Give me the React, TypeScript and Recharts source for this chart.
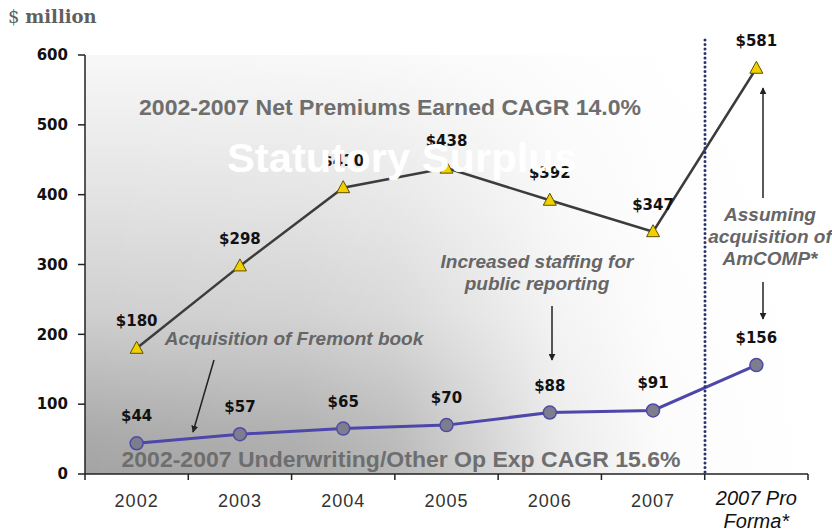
import React from 'react';
import { ComposedChart, Line, XAxis, YAxis, ReferenceArea, LabelList } from 'recharts';

const categories = ['2002', '2003', '2004', '2005', '2006', '2007', '2007 Pro Forma*'];
const netPremiums = [180, 298, 410, 438, 392, 347, 581];
const opExpenses = [44, 57, 65, 70, 88, 91, 156];
const yTicks = [0, 100, 200, 300, 400, 500, 600];

const W = 832;
const H = 531;
const M = { top: 55, right: 24, bottom: 0, left: 0 };
const YW = 85;
const XH = 57;
const BW = (W - M.left - M.right - YW) / categories.length;

const data = categories.map((c, i) => ({ cat: c, premiums: netPremiums[i], expenses: opExpenses[i] }));

const TriangleDot = (p: any) => {
  const { cx, cy, index } = p;
  if (cx == null || cy == null) return <g key={`t${index}`} />;
  return (
    <path
      key={`t${index}`}
      d={`M${cx},${cy - 7} L${cx + 6.5},${cy + 5} L${cx - 6.5},${cy + 5} Z`}
      fill="#f2d000"
      stroke="#5e5000"
      strokeWidth={1}
    />
  );
};

const CircleDot = (p: any) => {
  const { cx, cy, index } = p;
  if (cx == null || cy == null) return <g key={`c${index}`} />;
  return <circle key={`c${index}`} cx={cx} cy={cy} r={6.5} fill="#7d7d8e" stroke="#4f4aa6" strokeWidth={1.5} />;
};

const ValueLabel = (p: any) => {
  const { x, y, value } = p;
  if (x == null || y == null) return null;
  return (
    <text
      x={x}
      y={y - 22}
      textAnchor="middle"
      fontFamily="DejaVu Sans"
      fontWeight="bold"
      fontSize={15}
      fill="#111"
    >
      {'$' + value}
    </text>
  );
};

const XTick = (p: any) => {
  const { x, y, payload, index } = p;
  const v = payload.value as string;
  const last = index === categories.length - 1;
  return (
    <g>
      <line x1={x - BW / 2} y1={y} x2={x - BW / 2} y2={y + 6} stroke="#222" strokeWidth={1.5} />
      {last && <line x1={x + BW / 2} y1={y} x2={x + BW / 2} y2={y + 6} stroke="#222" strokeWidth={1.5} />}
      {last ? (
        <text x={x} textAnchor="middle" fontFamily="Liberation Sans" fontStyle="italic" fontSize={20} fill="#111">
          <tspan x={x} y={y + 31}>2007 Pro</tspan>
          <tspan x={x} y={y + 54}>Forma*</tspan>
        </text>
      ) : (
        <text x={x} y={y + 33} textAnchor="middle" fontFamily="Liberation Sans" fontSize={18} letterSpacing={1} fill="#333">
          {v}
        </text>
      )}
    </g>
  );
};

const annoStyle = {
  fontFamily: 'Liberation Sans',
  fontWeight: 'bold' as const,
  fontStyle: 'italic' as const,
  fontSize: 19,
  fill: '#666',
};

export default function App() {
  return (
    <div style={{ position: 'absolute', left: 0, top: 0, width: W, height: H, background: '#fff' }}>
      <svg width={0} height={0} style={{ position: 'absolute' }}>
        <defs>
          <linearGradient id="bgV" x1="0" y1="0" x2="0" y2="1">
            <stop offset="0" stopColor="#f8f8f8" />
            <stop offset="0.35" stopColor="#e2e2e2" />
            <stop offset="0.62" stopColor="#cfcfcf" />
            <stop offset="0.9" stopColor="#ababab" />
            <stop offset="1" stopColor="#a4a4a4" />
          </linearGradient>
          <linearGradient id="bgH" x1="0" y1="0" x2="1" y2="0">
            <stop offset="0" stopColor="#fff" stopOpacity={0} />
            <stop offset="0.3" stopColor="#fff" stopOpacity={0.08} />
            <stop offset="0.43" stopColor="#fff" stopOpacity={0.22} />
            <stop offset="0.55" stopColor="#fff" stopOpacity={0.5} />
            <stop offset="0.66" stopColor="#fff" stopOpacity={0.78} />
            <stop offset="0.8" stopColor="#fff" stopOpacity={0.96} />
            <stop offset="1" stopColor="#fff" stopOpacity={1} />
          </linearGradient>
        </defs>
      </svg>
      <div style={{ position: 'absolute', left: 0, top: 0 }}>
        <ComposedChart width={W} height={H} data={data} margin={M}>
          <ReferenceArea y1={0} y2={600} fill="url(#bgV)" fillOpacity={1} stroke="none" />
          <ReferenceArea y1={0} y2={600} fill="url(#bgH)" fillOpacity={1} stroke="none" />
          <XAxis
            dataKey="cat"
            scale="band"
            interval={0}
            tickLine={false}
            tickSize={0}
            tickMargin={0}
            axisLine={{ stroke: '#222', strokeWidth: 1.5 }}
            tick={<XTick />}
            height={XH}
          />
          <YAxis
            domain={[0, 600]}
            ticks={yTicks}
            width={YW}
            tickSize={7}
            tickMargin={10}
            axisLine={{ stroke: '#222', strokeWidth: 1.5 }}
            tickLine={{ stroke: '#222', strokeWidth: 1.5 }}
            tick={{ fontFamily: 'DejaVu Sans', fontWeight: 'bold', fontSize: 15, fill: '#111' }}
          />
          <Line
            dataKey="premiums"
            stroke="#3c3c3c"
            strokeWidth={2.5}
            dot={<TriangleDot />}
            isAnimationActive={false}
          >
            <LabelList dataKey="premiums" content={<ValueLabel />} />
          </Line>
          <Line
            dataKey="expenses"
            stroke="#4d47aa"
            strokeWidth={3}
            dot={<CircleDot />}
            isAnimationActive={false}
          >
            <LabelList dataKey="expenses" content={<ValueLabel />} />
          </Line>
        </ComposedChart>
      </div>
      <svg width={W} height={H} style={{ position: 'absolute', left: 0, top: 0, pointerEvents: 'none' }}>
        <defs>
          <marker id="arr" viewBox="0 0 10 10" refX="9" refY="5" markerWidth="7" markerHeight="7" orient="auto-start-reverse" markerUnits="userSpaceOnUse">
            <path d="M0,0 L10,5 L0,10 Z" fill="#222" />
          </marker>
        </defs>
        <text x={8} y={23} fontFamily="DejaVu Serif" fontSize={18} fill="#5f5f5f">
          <tspan>$ </tspan>
          <tspan fontWeight="bold">million</tspan>
        </text>
        <line x1={705} y1={40} x2={705} y2={474} stroke="#28326e" strokeWidth={3} strokeDasharray="0 4.5" strokeLinecap="round" />
        <text x={390} y={115} textAnchor="middle" fontFamily="Liberation Sans" fontWeight="bold" fontSize={22} fill="#6e6e6e" textLength={502} lengthAdjust="spacingAndGlyphs">
          2002-2007 Net Premiums Earned CAGR 14.0%
        </text>
        <text x={401} y={467} textAnchor="middle" fontFamily="Liberation Sans" fontWeight="bold" fontSize={22} fill="#6e6e6e" textLength={559} lengthAdjust="spacingAndGlyphs">
          2002-2007 Underwriting/Other Op Exp CAGR 15.6%
        </text>
        <text x={402} y={172} textAnchor="middle" fontFamily="Liberation Sans" fontWeight="bold" fontSize={40} fill="#ffffff" textLength={350} lengthAdjust="spacingAndGlyphs">
          Statutory Surplus
        </text>
        <text x={294} y={345} textAnchor="middle" {...annoStyle}>Acquisition of Fremont book</text>
        <text textAnchor="middle" {...annoStyle}>
          <tspan x={537} y={268}>Increased staffing for</tspan>
          <tspan x={537} y={290}>public reporting</tspan>
        </text>
        <text textAnchor="middle" {...annoStyle}>
          <tspan x={770} y={221}>Assuming</tspan>
          <tspan x={770} y={243}>acquisition of</tspan>
          <tspan x={770} y={265}>AmCOMP*</tspan>
        </text>
        <line x1={214} y1={360} x2={193} y2={432} stroke="#222" strokeWidth={1.5} markerEnd="url(#arr)" />
        <line x1={552} y1={306} x2={552} y2={360} stroke="#222" strokeWidth={1.5} markerEnd="url(#arr)" />
        <line x1={763} y1={198} x2={763} y2={88} stroke="#222" strokeWidth={1.5} markerEnd="url(#arr)" />
        <line x1={763} y1={282} x2={763} y2={319} stroke="#222" strokeWidth={1.5} markerEnd="url(#arr)" />
      </svg>
    </div>
  );
}
